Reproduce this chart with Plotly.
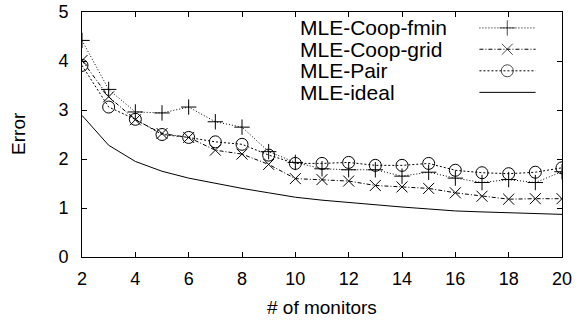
import plotly.graph_objects as go

monitors = list(range(2, 21))
coop_fmin = [4.42, 3.42, 2.96, 2.94, 3.06, 2.76, 2.65, 2.15, 1.93, 1.80, 1.78, 1.78, 1.65, 1.73, 1.61, 1.52, 1.58, 1.52, 1.74]
coop_grid = [4.01, 3.27, 2.80, 2.52, 2.44, 2.18, 2.10, 1.89, 1.60, 1.58, 1.55, 1.46, 1.43, 1.40, 1.31, 1.24, 1.18, 1.19, 1.19]
pair = [3.91, 3.06, 2.81, 2.50, 2.44, 2.35, 2.30, 2.08, 1.91, 1.91, 1.93, 1.87, 1.87, 1.91, 1.77, 1.72, 1.70, 1.73, 1.82]
ideal = [2.89, 2.28, 1.95, 1.75, 1.61, 1.50, 1.40, 1.31, 1.22, 1.16, 1.11, 1.06, 1.02, 0.98, 0.94, 0.92, 0.90, 0.88, 0.87]

names = ["MLE-Coop-fmin", "MLE-Coop-grid", "MLE-Pair", "MLE-ideal"]
series = [coop_fmin, coop_grid, pair, ideal]
dashes = ["1px,2px", "4px,2px,1px,2px", "2px,2px", "solid"]
symbols = ["cross-thin-open", "x-thin-open", "circle-open", None]
sizes = [11, 11, 12, 0]
x_title = "# of monitors"
y_title = "Error"

FONT = "Liberation Sans, Arial, sans-serif"

fig = go.Figure()
for name, ys, dash, sym, sz in zip(names, series, dashes, symbols, sizes):
    mode = "lines+markers" if sym else "lines"
    fig.add_trace(go.Scatter(
        x=monitors, y=ys, mode=mode, name=name, showlegend=False,
        line=dict(color="black", width=1, dash=dash),
        marker=dict(symbol=sym, size=sz, color="black", line=dict(color="black", width=1)) if sym else None,
    ))

# custom legend (text left, sample right) on overlay axes
row_y = [0.935, 0.848, 0.760, 0.672]
for name, dash, sym, sz, yy in zip(names, dashes, symbols, sizes, row_y):
    fig.add_trace(go.Scatter(
        x=[0.828, 0.886, 0.945], y=[yy, yy, yy], xaxis="x2", yaxis="y2",
        mode="lines+markers" if sym else "lines", showlegend=False, hoverinfo="skip",
        line=dict(color="black", width=1, dash=dash),
        marker=dict(symbol=sym, size=[0, sz, 0], color="black", line=dict(color="black", width=1)) if sym else None,
    ))
    fig.add_annotation(text=name, xref="paper", yref="paper", x=0.449, y=yy,
                       xanchor="left", yanchor="middle", showarrow=False,
                       font=dict(family=FONT, size=21, color="black"))

fig.add_annotation(text=x_title, xref="paper", yref="paper", x=0.5, y=-0.205,
                   xanchor="center", yanchor="middle", showarrow=False,
                   font=dict(family=FONT, size=19, color="black"))
fig.add_annotation(text=y_title, xref="paper", yref="paper", x=-0.132, y=0.505,
                   xanchor="center", yanchor="middle", showarrow=False, textangle=-90,
                   font=dict(family=FONT, size=19, color="black"))

axis_common = dict(showline=True, linecolor="black", linewidth=1, mirror="ticks",
                   ticks="inside", ticklen=5, tickcolor="black", showgrid=False, zeroline=False,
                   automargin=False,
                   tickfont=dict(family=FONT, size=18, color="black"))

fig.update_layout(
    width=579, height=322,
    margin=dict(l=82, r=17, t=12, b=65),
    plot_bgcolor="white", paper_bgcolor="white",
    xaxis=dict(range=[2, 20], tickvals=list(range(2, 21, 2)), ticklabelstandoff=5, **axis_common),
    yaxis=dict(range=[0, 5], tickvals=[0, 1, 2, 3, 4, 5], ticklabelstandoff=9, **axis_common),
    xaxis2=dict(overlaying="x", range=[0, 1], visible=False),
    yaxis2=dict(overlaying="y", range=[0, 1], visible=False),
    showlegend=False,
)

fig.write_html("out.html")
